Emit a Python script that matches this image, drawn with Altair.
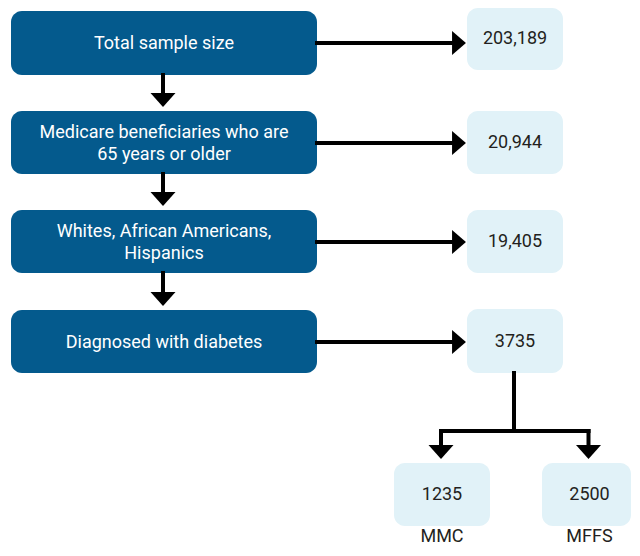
import altair as alt
import pandas as pd

# ---- content ----
steps = [
    "Total sample size",
    "Medicare beneficiaries who are\n65 years or older",
    "Whites, African Americans,\nHispanics",
    "Diagnosed with diabetes",
]
step_counts = ["203,189", "20,944", "19,405", "3735"]
groups = ["MMC", "MFFS"]
group_counts = ["1235", "2500"]

# ---- layout (reference pixel frame; page margin is 8px) ----
W, H = 624, 540
left_x = (11, 317)
left_rows = [(11, 75), (111, 174), (210, 273), (310, 373)]
right_x = (467, 563)
right_rows = [(8, 70), (111, 174), (210, 273), (309, 373)]
arrow_y = [43, 143, 242, 342]
left_text_y = [44, 144, 243, 343]
right_text_y = [39, 143, 242, 342]
group_x = [(394, 490), (542, 631)]
group_center_x = [442, 589.5]
group_y = (463, 526)
group_label_y = 537
LINE_H = 22
FS = 18

DARK = "#045A8D"
LIGHT = "#E1F2F8"
INK = "#231F20"
FONT = "Roboto"

xs = alt.Scale(domain=[8, 8 + W], range=[0, W], nice=False, zero=False, padding=0)
ys = alt.Scale(domain=[8, 8 + H], range=[0, H], nice=False, zero=False, padding=0)


def X(f="x"):
    return alt.X(f"{f}:Q", scale=xs, axis=None)


def Y(f="y"):
    return alt.Y(f"{f}:Q", scale=ys, axis=None)


# boxes
dark_boxes = pd.DataFrame(
    [{"x": left_x[0], "x2": left_x[1], "y": t, "y2": b} for t, b in left_rows]
)
light_boxes = pd.DataFrame(
    [{"x": right_x[0], "x2": right_x[1], "y": t, "y2": b} for t, b in right_rows]
    + [{"x": a, "x2": c, "y": group_y[0], "y2": group_y[1]} for a, c in group_x]
)

# connector segments
cx_left = (left_x[0] + left_x[1]) / 2 - 1
cx_right = (right_x[0] + right_x[1]) / 2 - 1
segs = []
for yy in arrow_y:
    segs.append({"x": left_x[1], "y": yy, "x2": 453, "y2": yy})
for i in range(3):
    segs.append({"x": cx_left, "y": left_rows[i][1], "x2": cx_left, "y2": left_rows[i + 1][0] - 17})
split_y = 431
gx = [c - 1 for c in group_center_x]
segs.append({"x": cx_right, "y": right_rows[3][1], "x2": cx_right, "y2": split_y})
segs.append({"x": gx[0], "y": split_y, "x2": gx[1], "y2": split_y})
for g in gx:
    segs.append({"x": g, "y": split_y, "x2": g, "y2": group_y[0] - 17})
segs = pd.DataFrame(segs)

heads_right = pd.DataFrame([{"x": 459, "y": yy} for yy in arrow_y])
heads_down = pd.DataFrame(
    [{"x": cx_left, "y": left_rows[i + 1][0] - 11} for i in range(3)]
    + [{"x": g, "y": group_y[0] - 11} for g in gx]
)

# multi-line labels: Vega puts the first line at y, so shift the block up
left_text = pd.DataFrame(
    {
        "x": [(left_x[0] + left_x[1]) / 2] * 4,
        "y": [yc - (s.count("\n")) * LINE_H / 2 for yc, s in zip(left_text_y, steps)],
        "t": steps,
    }
)
right_text = pd.DataFrame(
    {"x": [(right_x[0] + right_x[1]) / 2] * 4, "y": right_text_y, "t": step_counts}
)
group_text = pd.DataFrame(
    {"x": group_center_x, "y": [(group_y[0] + group_y[1]) / 2] * 2, "t": group_counts}
)
group_lab = pd.DataFrame(
    {"x": group_center_x, "y": [group_label_y] * 2, "t": groups}
)

layers = [
    alt.Chart(dark_boxes).mark_rect(color=DARK, cornerRadius=11).encode(x=X(), x2="x2", y=Y(), y2="y2"),
    alt.Chart(light_boxes).mark_rect(color=LIGHT, cornerRadius=11).encode(x=X(), x2="x2", y=Y(), y2="y2"),
    alt.Chart(segs).mark_rule(color="black", strokeWidth=4, strokeCap="square").encode(
        x=X(), y=Y(), x2="x2", y2="y2"
    ),
    alt.Chart(heads_right).mark_point(
        shape="M-0.58,-1L0.58,0L-0.58,1Z", filled=True, opacity=1, color="black", size=576, strokeWidth=0
    ).encode(x=X(), y=Y()),
    alt.Chart(heads_down).mark_point(
        shape="M-1,-0.56L1,-0.56L0,0.56Z", filled=True, opacity=1, color="black", size=625, strokeWidth=0
    ).encode(x=X(), y=Y()),
    alt.Chart(left_text).mark_text(
        font=FONT, fontSize=FS, color="white", lineBreak="\n", lineHeight=LINE_H, baseline="middle"
    ).encode(x=X(), y=Y(), text="t:N"),
    alt.Chart(right_text).mark_text(font=FONT, fontSize=FS, color=INK, baseline="middle").encode(
        x=X(), y=Y(), text="t:N"
    ),
    alt.Chart(group_text).mark_text(font=FONT, fontSize=FS, color=INK, baseline="middle").encode(
        x=X(), y=Y(), text="t:N"
    ),
    alt.Chart(group_lab).mark_text(font=FONT, fontSize=FS, color=INK, baseline="middle").encode(
        x=X(), y=Y(), text="t:N"
    ),
]

chart = (
    alt.layer(*layers)
    .properties(width=W, height=H, padding=0, autosize="none")
    .configure_view(stroke=None)
)

chart.save("out.html", embed_options={"renderer": "svg", "actions": False})
